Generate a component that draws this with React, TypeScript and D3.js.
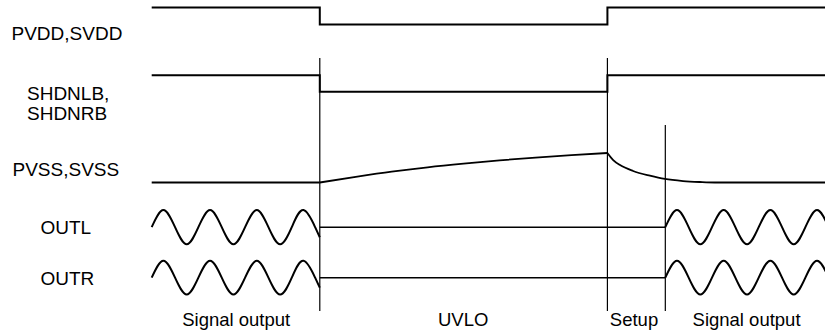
import React from "react";
import * as d3 from "d3";

// ---- Data (time measured in sine periods of the output signal) ----
const signalNames = ["PVDD,SVDD", "SHDNLB,", "SHDNRB", "PVSS,SVSS", "OUTL", "OUTR"];
const phaseLabels = ["Signal output", "UVLO", "Setup", "Signal output"];
const phaseCenters = [1.81, 6.67, 10.33, 12.74];
const eventTimes = [3.6, 9.76, 11]; // UVLO start, setup start, signal restart
const tEnd = 14.42;

// Supply (PVDD,SVDD) logic level
const pvddTimes = [0, 3.6, 9.76, 14.42];
const pvddLevels = [1, 0, 1, 1];
// Shutdown (SHDNLB/SHDNRB) logic level
const shdnTimes = [0, 3.6, 9.76, 14.42];
const shdnLevels = [1, 0, 1, 1];

// Negative supply charge-pump (PVSS,SVSS) level, three pieces
const pvssIdleTimes = [0, 3.6];
const pvssIdleLevels = [0, 0];
const pvssRiseTimes = [3.6, 4.37, 5.14, 5.91, 6.68, 7.45, 8.22, 8.99, 9.76];
const pvssRiseLevels = [0, 0.19, 0.366, 0.515, 0.64, 0.75, 0.846, 0.928, 1];
const pvssDecayTimes = [9.76, 9.884, 10.03, 10.31, 10.67, 10.99, 11.38, 11.74, 12.06, 14.42];
const pvssDecayLevels = [1, 0.76, 0.59, 0.39, 0.23, 0.12, 0.05, 0.017, 0, 0];

// Output waveform samples (quarter periods)
const waveLeftTimes = [0, 0.25, 0.5, 0.75, 1, 1.25, 1.5, 1.75, 2, 2.25, 2.5, 2.75, 3, 3.25, 3.5, 3.6];
const waveLeftValues = [0, 1, 0, -1, 0, 1, 0, -1, 0, 1, 0, -1, 0, 1, 0, -0.59];
const waveRightTimes = [11, 11.25, 11.5, 11.75, 12, 12.25, 12.5, 12.75, 13, 13.25, 13.5, 13.75, 14, 14.25, 14.5];
const waveRightValues = [0, 1, 0, -1, 0, 1, 0, -1, 0, 1, 0, -1, 0, 1, 0];
const muteTimes = [3.6, 11];
const muteValues = [0, 0];

// ---- Layout ----
const W = 825;
const H = 332;
const x = d3.scaleLinear().domain([0, tEnd]).range([151.7, 825]);
const yPvdd = d3.scaleLinear().domain([0, 1]).range([24.5, 7.5]);
const yShdn = d3.scaleLinear().domain([0, 1]).range([91.7, 75.3]);
const yPvss = d3.scaleLinear().domain([0, 1]).range([182.5, 153]);
const yOutL = d3.scaleLinear().domain([-1, 1]).range([244.3, 210.1]);
const yOutR = d3.scaleLinear().domain([-1, 1]).range([294.6, 260.8]);

function path(ts: number[], vs: number[], y: d3.ScaleLinear<number, number>, curve: d3.CurveFactory) {
  const pts = ts.map((t, i) => [t, vs[i]] as [number, number]);
  return (
    d3
      .line<[number, number]>()
      .x((d) => x(d[0]))
      .y((d) => y(d[1]))
      .curve(curve)(pts) || ""
  );
}

const markerTops = [58, 58, 125];
const markerBottom = 311;

const labelFont = "'Liberation Sans', Arial, sans-serif";

export default function App() {
  const stroke = "#000";
  return (
    <svg
      width={W}
      height={H}
      style={{ position: "absolute", left: 0, top: 0, background: "#fff" }}
    >
      {/* event markers */}
      {eventTimes.map((t, i) => (
        <line
          key={"m" + i}
          x1={x(t)}
          x2={x(t)}
          y1={markerTops[i]}
          y2={markerBottom}
          stroke={stroke}
          strokeWidth={1.2}
        />
      ))}
      {/* signals */}
      <path d={path(pvddTimes, pvddLevels, yPvdd, d3.curveStepAfter)} fill="none" stroke={stroke} strokeWidth={2} />
      <path d={path(shdnTimes, shdnLevels, yShdn, d3.curveStepAfter)} fill="none" stroke={stroke} strokeWidth={2} />
      <path d={path(pvssIdleTimes, pvssIdleLevels, yPvss, d3.curveLinear)} fill="none" stroke={stroke} strokeWidth={1.8} />
      <path d={path(pvssRiseTimes, pvssRiseLevels, yPvss, d3.curveMonotoneX)} fill="none" stroke={stroke} strokeWidth={1.8} />
      <path d={path(pvssDecayTimes, pvssDecayLevels, yPvss, d3.curveMonotoneX)} fill="none" stroke={stroke} strokeWidth={1.8} />
      <path d={path(waveLeftTimes, waveLeftValues, yOutL, d3.curveNatural)} fill="none" stroke={stroke} strokeWidth={2} />
      <path d={path(waveRightTimes, waveRightValues, yOutL, d3.curveNatural)} fill="none" stroke={stroke} strokeWidth={2} />
      <path d={path(muteTimes, muteValues, yOutL, d3.curveLinear)} fill="none" stroke={stroke} strokeWidth={1.6} />
      <path d={path(waveLeftTimes, waveLeftValues, yOutR, d3.curveNatural)} fill="none" stroke={stroke} strokeWidth={2} />
      <path d={path(waveRightTimes, waveRightValues, yOutR, d3.curveNatural)} fill="none" stroke={stroke} strokeWidth={2} />
      <path d={path(muteTimes, muteValues, yOutR, d3.curveLinear)} fill="none" stroke={stroke} strokeWidth={1.6} />

      {/* signal names */}
      <g fontFamily={labelFont} fontSize={19} fill="#000">
        <text x={11.5} y={40}>{signalNames[0]}</text>
        <text x={27} y={100}>{signalNames[1]}</text>
        <text x={27} y={120}>{signalNames[2]}</text>
        <text x={12.5} y={175.5}>{signalNames[3]}</text>
        <text x={40.5} y={234}>{signalNames[4]}</text>
        <text x={40.5} y={285}>{signalNames[5]}</text>
      </g>
      {/* phase names */}
      <g fontFamily={labelFont} fontSize={18.5} fill="#000" textAnchor="middle">
        {phaseLabels.map((s, i) => (
          <text key={"p" + i} x={x(phaseCenters[i])} y={326}>
            {s}
          </text>
        ))}
      </g>
    </svg>
  );
}
